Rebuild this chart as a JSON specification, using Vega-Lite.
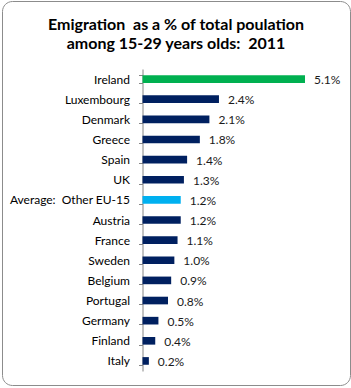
{
  "$schema": "https://vega.github.io/schema/vega-lite/v6.json",
  "autosize": "none",
  "width": 348,
  "height": 384,
  "padding": {"left": 2, "top": 1, "right": 1, "bottom": 3},
  "background": "white",
  "config": {
    "view": {"stroke": "#8c8c8c", "strokeWidth": 1, "cornerRadius": 10},
    "font": "Lato"
  },
  "title": {
    "text": ["Emigration\u00a0 as a % of total poulation", "among 15-29 years olds:\u00a0 2011"],
    "font": "Lato",
    "fontSize": 16,
    "fontWeight": "bold",
    "color": "#000000",
    "anchor": "middle",
    "offset": -57,
    "lineHeight": 19
  },
  "data": {
    "values": [
      {"country": "Ireland", "share": 0.051, "group": "Ireland"},
      {"country": "Luxembourg", "share": 0.024, "group": "Country"},
      {"country": "Denmark", "share": 0.021, "group": "Country"},
      {"country": "Greece", "share": 0.018, "group": "Country"},
      {"country": "Spain", "share": 0.014, "group": "Country"},
      {"country": "UK", "share": 0.013, "group": "Country"},
      {"country": "Average:\u00a0 Other EU-15", "share": 0.012, "group": "Average"},
      {"country": "Austria", "share": 0.012, "group": "Country"},
      {"country": "France", "share": 0.011, "group": "Country"},
      {"country": "Sweden", "share": 0.010, "group": "Country"},
      {"country": "Belgium", "share": 0.009, "group": "Country"},
      {"country": "Portugal", "share": 0.008, "group": "Country"},
      {"country": "Germany", "share": 0.005, "group": "Country"},
      {"country": "Finland", "share": 0.004, "group": "Country"},
      {"country": "Italy", "share": 0.002, "group": "Country"}
    ]
  },
  "encoding": {
    "y": {
      "field": "country",
      "type": "nominal",
      "sort": null,
      "scale": {"range": [68, 370], "paddingInner": 0.62, "paddingOuter": 0.31},
      "axis": {
        "title": null,
        "offset": -140.5,
        "tickBand": "extent",
        "tickSize": 4,
        "tickColor": "#868686",
        "domainColor": "#868686",
        "labelFont": "Lato",
        "labelFontSize": 12,
        "labelColor": "#000000",
        "labelPadding": 9
      }
    },
    "x": {
      "field": "share",
      "type": "quantitative",
      "scale": {"domain": [0, 0.051], "range": [140.5, 303], "nice": false},
      "axis": null
    }
  },
  "layer": [
    {
      "mark": {"type": "bar"},
      "encoding": {
        "color": {
          "field": "group",
          "type": "nominal",
          "scale": {"domain": ["Ireland", "Country", "Average"], "range": ["#00B050", "#002060", "#00B0F0"]},
          "legend": null
        }
      }
    },
    {
      "mark": {"type": "text", "align": "left", "dx": 9, "dy": 1, "font": "Lato", "fontSize": 12, "color": "#1a1a1a"},
      "encoding": {
        "text": {"field": "share", "type": "quantitative", "format": ".1%"}
      }
    }
  ]
}
